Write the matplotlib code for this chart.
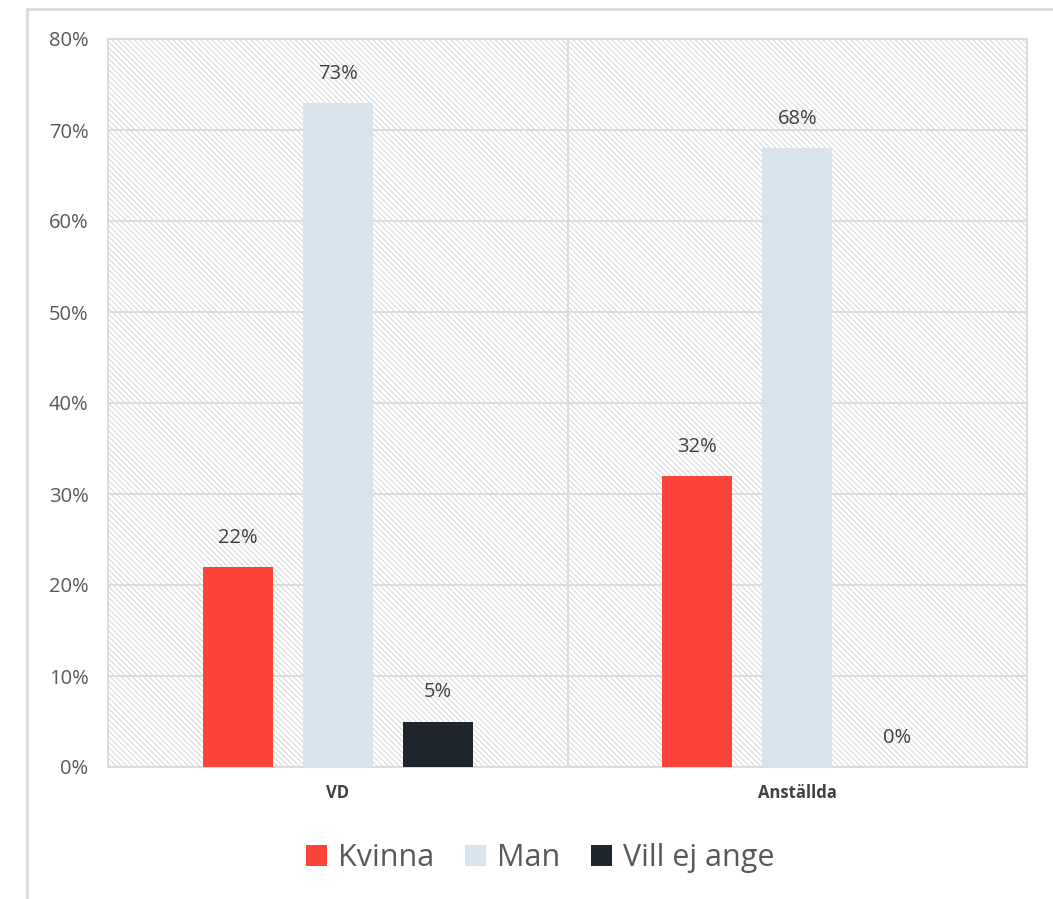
import numpy as np
import matplotlib
matplotlib.use('Agg')
import matplotlib.pyplot as plt
from matplotlib.patches import Rectangle

# data
categories = ['VD', 'Anställda']
series = ['Kvinna', 'Man', 'Vill ej ange']
kvinna = [22, 32]
man = [73, 68]
vill_ej = [5, 0]
colors = ['#FC443B', '#D7E4EE', '#1F252D']

plt.rcParams['font.family'] = ['Open Sans', 'DejaVu Sans']
plt.rcParams['hatch.linewidth'] = 0.6
plt.rcParams['hatch.color'] = '#cfcfcf'

fig = plt.figure(figsize=(10.53, 8.99), dpi=100)
ax = fig.add_axes([108/1053, 1 - 767/899, 919/1053, 728/899])

# outer frame
fig.patches.append(Rectangle((27/1053, -0.1), 1.2, 1 - 9/899 + 0.1,
                             transform=fig.transFigure, fill=False,
                             edgecolor='#d9d9d9', linewidth=2, zorder=0))

# hatched background of plot area
ax.add_patch(Rectangle((0, 0), 1, 1, transform=ax.transAxes, facecolor='white',
                       edgecolor='#cfcfcf', hatch='\\' * 6, linewidth=0, zorder=0))

x = np.arange(len(categories))
w = 0.1525
off = 0.218
for i, (vals, name) in enumerate(zip([kvinna, man, vill_ej], series)):
    pos = x + (i - 1) * off
    bars = ax.bar(pos, vals, width=w, color=colors[i], label=name, zorder=3)
    for p, v in zip(pos, vals):
        ax.text(p, v + 2.1, f'{v}%', ha='center', va='bottom', fontsize=14.5,
                color='#404040', zorder=4)

ax.set_xlim(-0.5, 1.5)
ax.set_ylim(0, 80)
ax.set_yticks(np.arange(0, 81, 10))
ax.set_yticklabels([f'{t}%' for t in range(0, 81, 10)], fontsize=14.5, color='#595959')
ax.set_xticks(x)
ax.set_xticklabels(categories, fontsize=12, fontweight='bold', color='#404040')
ax.tick_params(axis='both', length=0)
ax.tick_params(axis='y', pad=14)
ax.tick_params(axis='x', pad=12)
ax.yaxis.grid(True, color='#d9d9d9', linewidth=1.3, zorder=1)
ax.axvline(0.5, color='#d9d9d9', linewidth=1.3, zorder=1)
ax.set_axisbelow(True)
for s in ax.spines.values():
    s.set_color('#d9d9d9')
    s.set_linewidth(1.3)

leg = fig.legend(loc='center', bbox_to_anchor=(540/1053, 1 - 858/899), ncol=3,
                 frameon=False, fontsize=22, handlelength=0.7, handleheight=0.7,
                 handletextpad=0.35, columnspacing=1.0)
for t in leg.get_texts():
    t.set_color('#595959')

fig.savefig('out.png', dpi=100)
